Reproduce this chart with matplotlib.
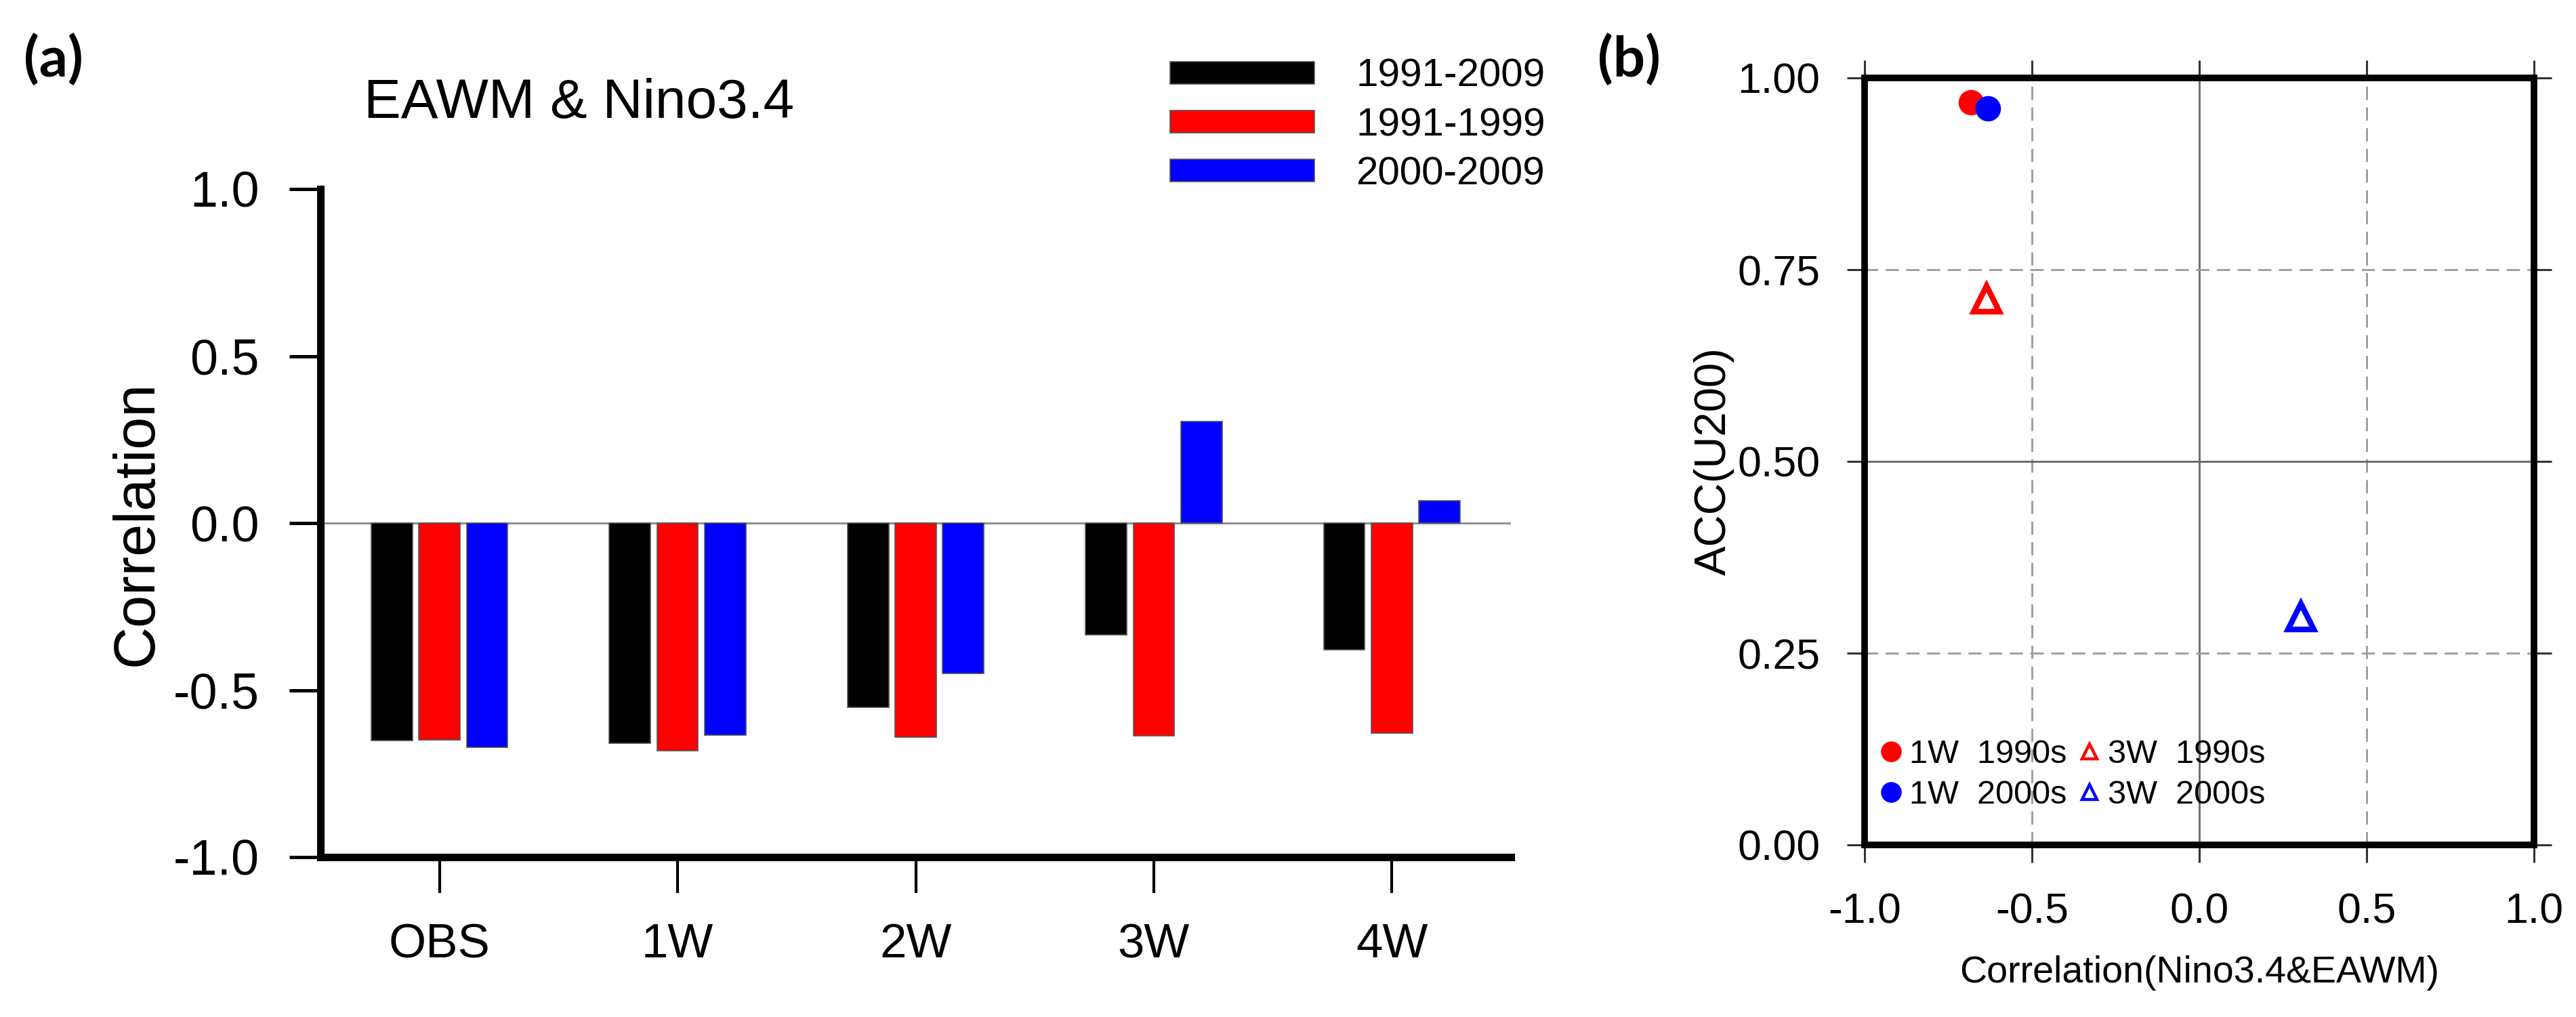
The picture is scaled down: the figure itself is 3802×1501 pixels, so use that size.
import matplotlib.pyplot as plt
import numpy as np
from matplotlib.lines import Line2D

# panel (a) data
groups = ['OBS', '1W', '2W', '3W', '4W']
periods = ['1991-2009', '1991-1999', '2000-2009']
corr_9109 = [-0.651, -0.659, -0.552, -0.335, -0.380]
corr_9199 = [-0.649, -0.682, -0.640, -0.636, -0.628]
corr_0009 = [-0.672, -0.634, -0.450, 0.304, 0.066]

# panel (b) data
pt_labels = ['1W  1990s', '1W  2000s', '3W  1990s', '3W  2000s']
pt_corr = [-0.683, -0.631, -0.636, 0.304]
pt_acc = [0.968, 0.960, 0.712, 0.298]

NARROW = ['Liberation Sans Narrow', 'Liberation Sans']
plt.rcParams['font.family'] = ['Liberation Sans', 'DejaVu Sans']

W, H = 3802, 1501
fig = plt.figure(figsize=(W / 100, H / 100), dpi=100)

# ---------------- (a) bar chart ----------------
ax = fig.add_axes([473 / W, 1 - 1265 / H, 1757 / W, 986 / H])
x = np.arange(len(groups))
bar_colors = ['black', 'red', 'blue']
for k, (vals, lab, col) in enumerate(zip([corr_9109, corr_9199, corr_0009], periods, bar_colors)):
    ax.bar(x + (k - 1) * 0.2, vals, 0.173, color=col, edgecolor='#555555',
           linewidth=1.2, label=lab, zorder=2)
ax.axhline(0, color='#888888', lw=2, zorder=1)

ax.set_xlim(-0.5, 4.5)
ax.set_ylim(-1, 1)
ax.set_xticks(x)
ax.set_xticklabels(groups)
ax.set_yticks([-1, -0.5, 0, 0.5, 1])
ax.set_yticklabels(['-1.0', '-0.5', '0.0', '0.5', '1.0'])
ax.spines['top'].set_visible(False)
ax.spines['right'].set_visible(False)
for s in ['left', 'bottom']:
    ax.spines[s].set_linewidth(8)
ax.tick_params(axis='y', direction='out', length=33, width=3.6, pad=32,
               labelsize=53, labelfontfamily=NARROW)
ax.tick_params(axis='x', direction='out', length=38, width=3, pad=32,
               labelsize=51, labelfontfamily=NARROW)
ax.set_ylabel('Correlation', fontsize=62)
ax.yaxis.set_label_coords(-0.131, 0.5)

ax.legend(loc='upper left', bbox_to_anchor=(1727 / W, 1 - 86 / H),
          bbox_transform=fig.transFigure, frameon=False,
          prop={'family': NARROW, 'size': 42}, handlelength=3.65,
          handleheight=0.48, handletextpad=1.05, labelspacing=0.31,
          borderpad=0, borderaxespad=0)

fig.text(35 / W, 1 - 88 / H, '(a)', fontsize=60, fontweight='bold',
         family='Lato', va='center', ha='left')
fig.text(537 / W, 1 - 153 / H, 'EAWM & Nino3.4', fontsize=59,
         va='center', ha='left')

# ---------------- (b) scatter ----------------
bx = fig.add_axes([2752 / W, 1 - 1247 / H, 988 / W, 1132 / H])
bx.set_xlim(-1, 1)
bx.set_ylim(0, 1)
for v in [-0.5, 0.5]:
    bx.axvline(v, color='#999999', lw=2, ls=(0, (7, 4)), zorder=0)
bx.axvline(0, color='#666666', lw=2, zorder=0)
for v in [0.25, 0.75]:
    bx.axhline(v, color='#999999', lw=2, ls=(0, (7, 4)), zorder=0)
bx.axhline(0.5, color='#666666', lw=2, zorder=0)

pt_colors = ['red', 'blue', 'red', 'blue']
pt_markers = ['o', 'o', '^', '^']
for cx, cy, col, mk in zip(pt_corr, pt_acc, pt_colors, pt_markers):
    if mk == 'o':
        bx.plot(cx, cy, 'o', color=col, ms=27, mew=0, zorder=3)
    else:
        bx.plot(cx, cy, '^', mfc='none', mec=col, ms=28, mew=6, zorder=3)

bx.set_xticks([-1, -0.5, 0, 0.5, 1])
bx.set_xticklabels(['-1.0', '-0.5', '0.0', '0.5', '1.0'])
bx.set_yticks([0, 0.25, 0.5, 0.75, 1])
bx.set_yticklabels(['0.00', '0.25', '0.50', '0.75', '1.00'])
for s in bx.spines.values():
    s.set_linewidth(7)
bx.tick_params(which='both', direction='out', top=True, right=True,
               length=19, width=2.2, color='#333333', labelsize=45,
               labelfontfamily=NARROW)
bx.tick_params(axis='y', pad=28)
bx.tick_params(axis='x', pad=31)
bx.set_xlabel('Correlation(Nino3.4&EAWM)', fontsize=40)
bx.xaxis.set_label_coords(0.5, -0.144)
bx.set_ylabel('ACC(U200)', fontsize=47)
bx.yaxis.set_label_coords(-0.194, 0.5)

handles = []
for col, mk in zip(pt_colors, pt_markers):
    if mk == 'o':
        handles.append(Line2D([], [], ls='none', marker='o', color=col, ms=22, mew=0))
    else:
        handles.append(Line2D([], [], ls='none', marker='^', mfc='none', mec=col,
                              ms=16, mew=3.2))
bx.legend(handles, pt_labels, ncol=2, loc='lower left',
          bbox_to_anchor=(0.025, 0.045), frameon=False,
          prop={'family': NARROW, 'size': 35}, handlelength=0.6,
          handletextpad=0.25, columnspacing=0.4, labelspacing=0.3,
          borderpad=0, borderaxespad=0)

fig.text(2358 / W, 1 - 88 / H, '(b)', fontsize=60, fontweight='bold',
         family='Lato', va='center', ha='left')

fig.savefig('out.png', dpi=100, facecolor='white')
